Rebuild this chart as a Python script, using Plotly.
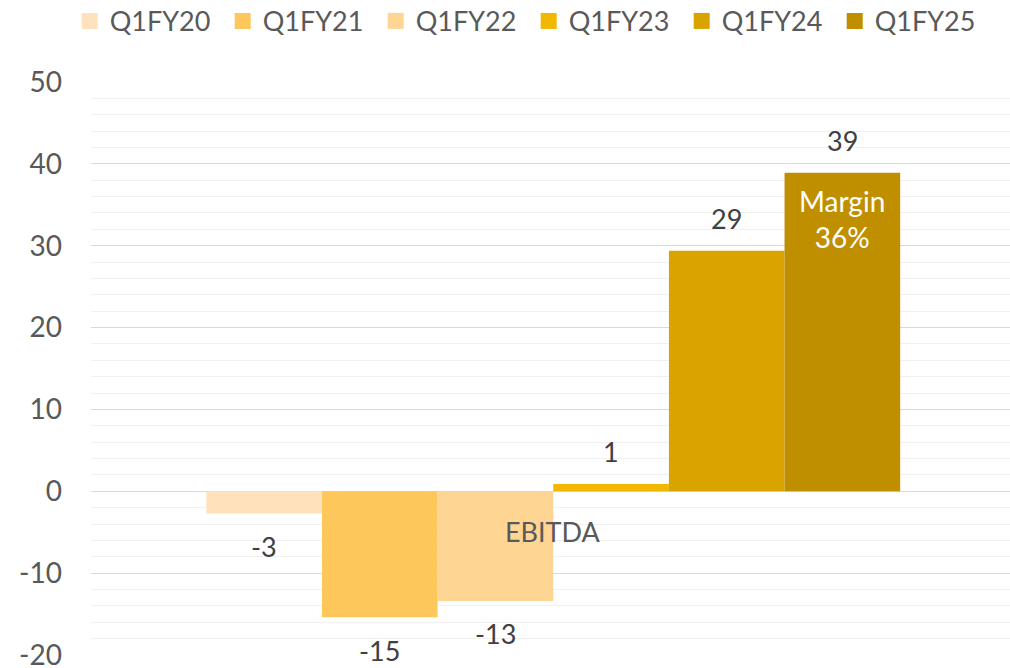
import plotly.graph_objects as go

category = "EBITDA"
series = ["Q1FY20", "Q1FY21", "Q1FY22", "Q1FY23", "Q1FY24", "Q1FY25"]
values = [-2.7, -15.4, -13.4, 0.9, 29.4, 38.9]
labels = ["-3", "-15", "-13", "1", "29", "39"]
colors = ["#FFE2BC", "#FEC75C", "#FFD593", "#F2B700", "#D9A400", "#BF8F00"]
margin_note = "Margin<br>36%"
y_ticks = [-20, -10, 0, 10, 20, 30, 40, 50]
y_tick_text = ["-20", "-10", "0", "10", "20", "30", "40", "50"]

FONT = "Lato"
BARGAP = 0.245

fig = go.Figure()
for name, v, c in zip(series, values, colors):
    fig.add_trace(go.Bar(x=[category], y=[v], name=name, marker_color=c,
                         marker_line_width=0, showlegend=False, cliponaxis=False))
# legend proxies with larger square swatches
for name, c in zip(series, colors):
    fig.add_trace(go.Scatter(x=[None], y=[None], mode="markers", name=name,
                             marker=dict(symbol="square", size=17, color=c)))

n = len(series)
w = (1 - BARGAP) / n
annotations = []
for i, (v, lab) in enumerate(zip(values, labels)):
    xc = (i - (n - 1) / 2) * w
    annotations.append(dict(x=xc, y=v, xref="x", yref="y", text=lab, showarrow=False,
                            yanchor="middle", yshift=32 if v >= 0 else -33,
                            font=dict(family=FONT, size=27, color="#404040")))
# margin note inside last bar
annotations.append(dict(x=((n - 1) - (n - 1) / 2) * w, y=values[-1], xref="x", yref="y",
                        text=margin_note, showarrow=False, yanchor="top", yshift=-9,
                        font=dict(family=FONT, size=28, color="#FFFFFF")))
# category label next to the axis at zero
annotations.append(dict(x=0, y=0, xref="x", yref="y", text=category, showarrow=False,
                        yanchor="middle", yshift=-40,
                        font=dict(family=FONT, size=27, color="#595959")))

fig.update_layout(
    width=1010, height=668,
    margin=dict(l=91, r=0, t=82, b=13, autoexpand=False),
    paper_bgcolor="white", plot_bgcolor="white",
    barmode="group", bargap=BARGAP, bargroupgap=0,
    font=dict(family=FONT, size=27, color="#595959"),
    legend=dict(orientation="h", xref="container", yref="container",
                x=0.069, xanchor="left", y=0.968, yanchor="middle",
                font=dict(family=FONT, size=27, color="#595959"),
                entrywidth=108, itemwidth=30, traceorder="normal",
                bgcolor="rgba(0,0,0,0)"),
    annotations=annotations,
)
fig.update_xaxes(showticklabels=False, showgrid=False, zeroline=False, showline=False,
                 range=[-0.503, 0.497], automargin=False)
fig.update_yaxes(range=[-20, 50], tickvals=y_ticks, ticktext=y_tick_text,
                 showgrid=True, gridcolor="#D9D9D9", automargin=False,
                 gridwidth=1, zeroline=False, showline=False, ticks="",
                 ticklabelstandoff=28, ticklabeloverflow="allow",
                 tickfont=dict(family=FONT, size=28, color="#595959"),
                 minor=dict(dtick=2, showgrid=True, gridcolor="#F0F0F0", gridwidth=1))

fig.write_html("out.html", config={"displayModeBar": False},
               post_script="document.body.style.margin='0px';document.body.style.overflow='hidden';")
